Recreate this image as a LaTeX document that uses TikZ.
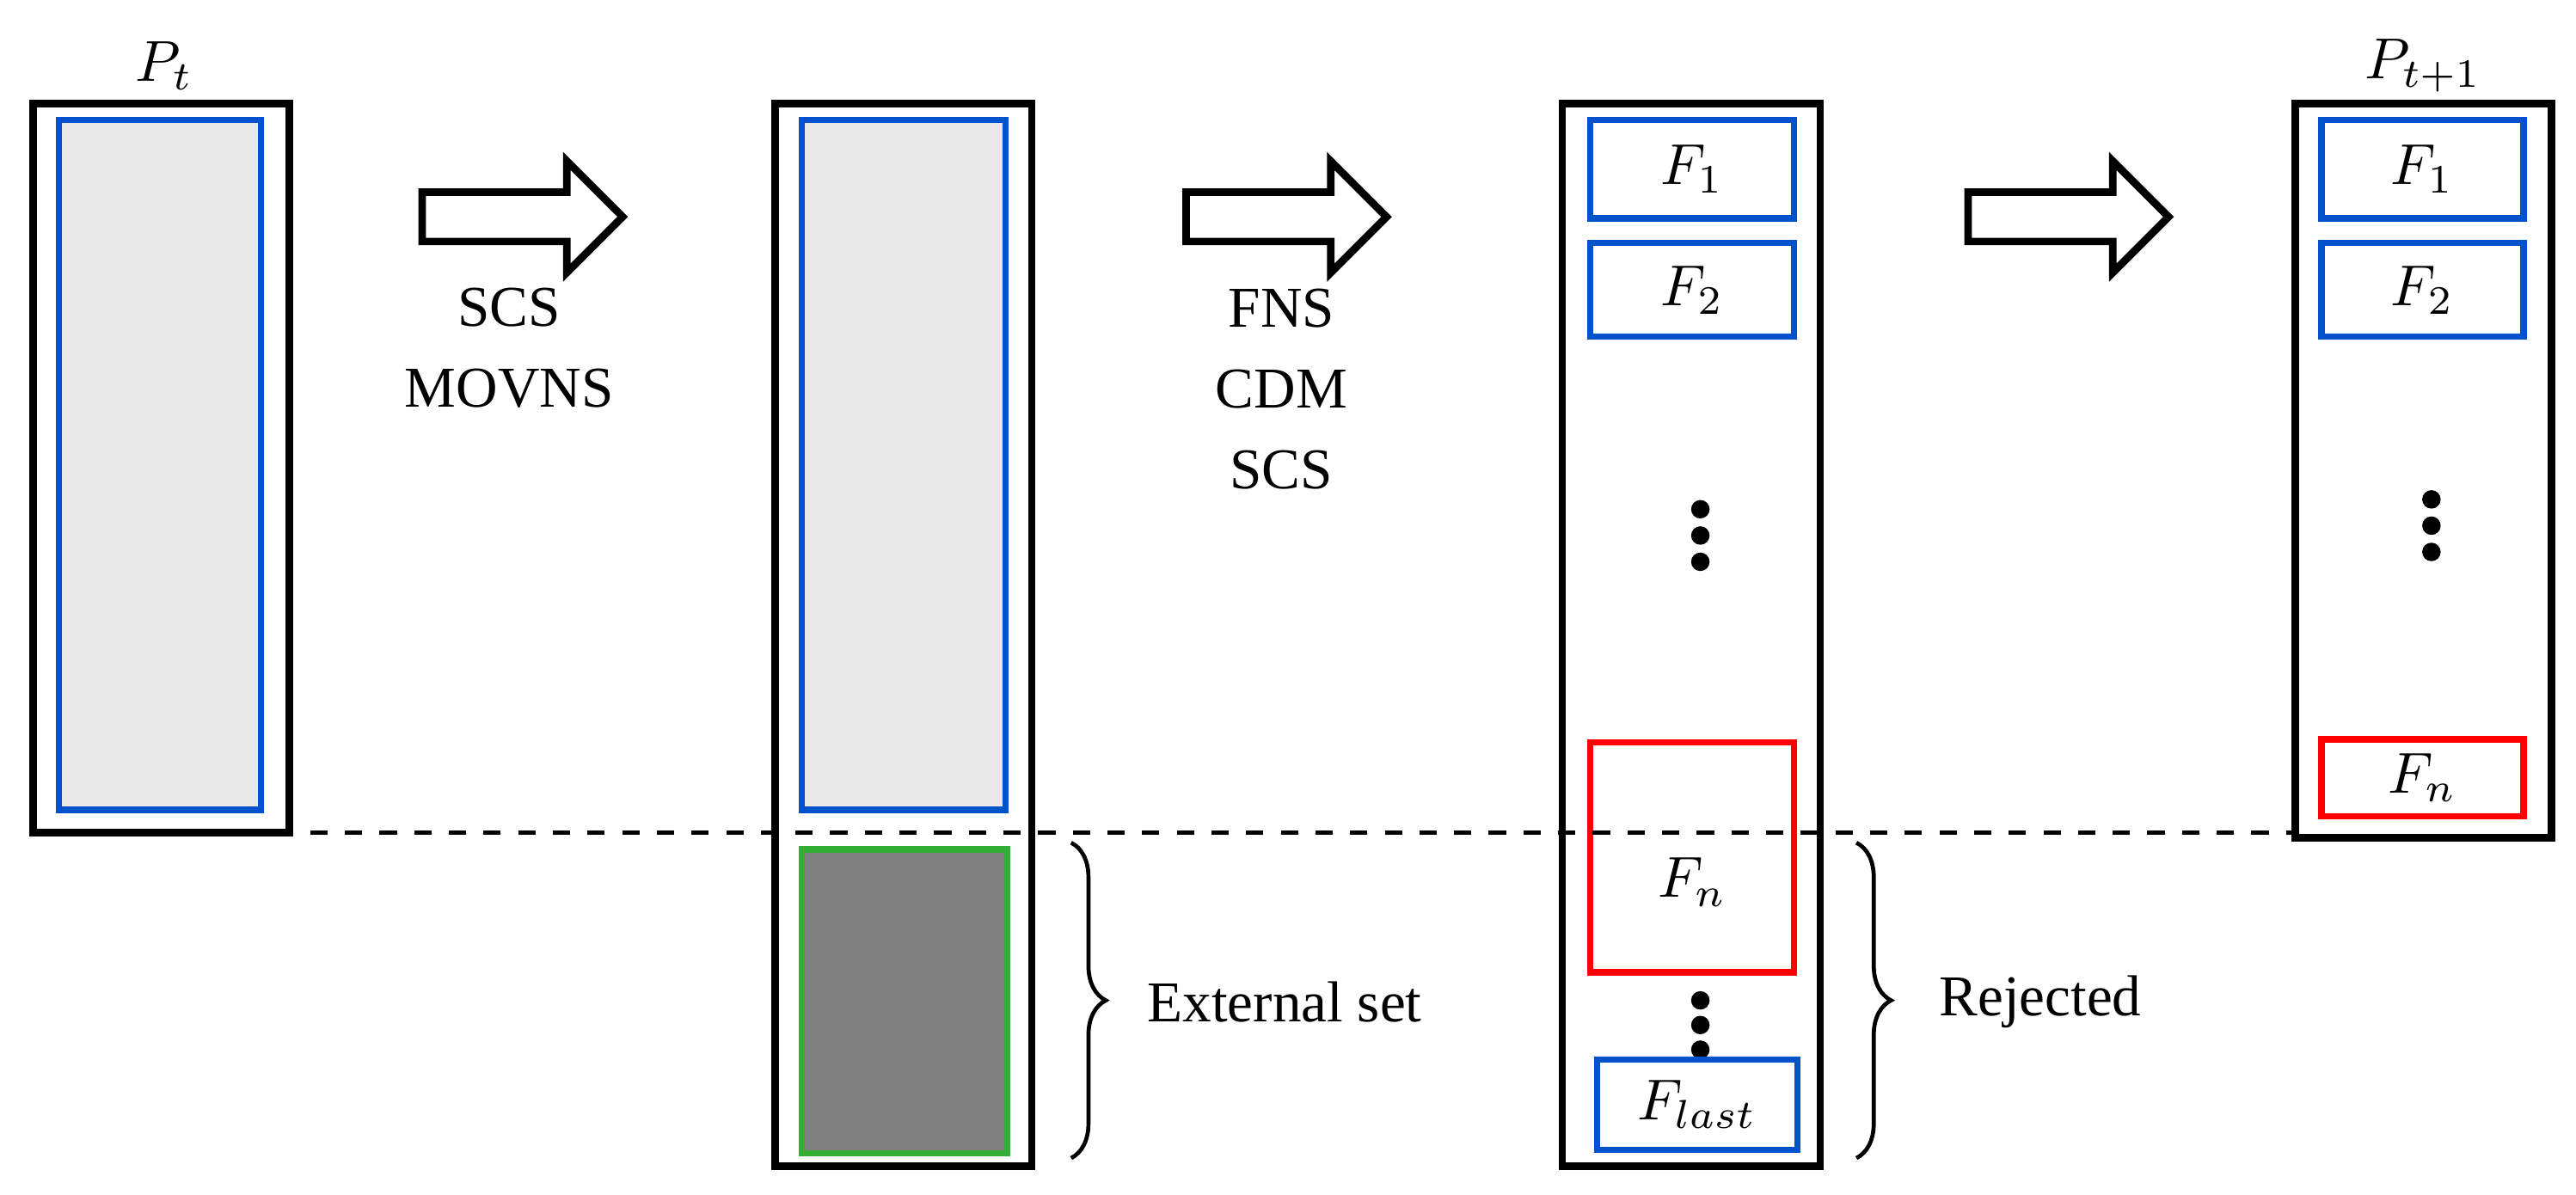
\documentclass[tikz,border=0pt]{standalone}
\usepackage{fontspec}
\setmainfont{Liberation Serif}
\usetikzlibrary{decorations.pathreplacing}
\begin{document}
\begin{tikzpicture}[x=0.01cm,y=-0.01cm,
 outer/.style={draw=black,line width=1.3pt},
 blue box/.style={draw=blue!60!cyan!80!black,line width=1.1pt},
 red box/.style={draw=red,line width=1.1pt},
 lbl/.style={font=\fontsize{10}{12}\selectfont},
 dot/.style={circle,fill=black,inner sep=0,minimum size=3.2pt},
 bigarrow/.style={draw=black,line width=1.3pt,fill=white},
 br/.style={decorate,decoration={brace,amplitude=6pt},line width=0.7pt}]
\useasboundingbox (0,0) rectangle (1568,727);
% column 1
\draw[outer] (20,63) rectangle (176,507);
\draw[blue box,fill=gray!18] (36,73) rectangle (159,493);
\node[lbl] (pt) at (100,40) {$P_t$};
% arrows
\foreach \x in {257,722,1198}{
 \draw[bigarrow] (\x,117) -- (\x+88,117) -- (\x+88,98) -- (\x+122,132) -- (\x+88,166) -- (\x+88,147) -- (\x,147) -- cycle;
}
\node[lbl,align=center] (t1) at (310,212) {SCS\\[2pt]MOVNS};
\node[lbl,align=center] (t2) at (780,237) {FNS\\[2pt]CDM\\[2pt]SCS};
% column 2
\draw[outer] (472,63) rectangle (628,710);
\draw[blue box,fill=gray!18] (488,73) rectangle (612,493);
\draw[draw=green!60!black!80,line width=1.1pt,fill=gray] (488,517) rectangle (613,702);
\coordinate (b1s) at (652,513); \coordinate (b1e) at (652,705);
\draw[br] (b1s) -- (b1e);
\node[lbl,anchor=west] (ext) at (686,610) {External set};
% column 3
\draw[outer] (951,63) rectangle (1108,710);
\draw[blue box] (968,73) rectangle (1092,133) node[midway,lbl] (f1) {$F_1$};
\draw[blue box] (968,148) rectangle (1092,205) node[midway,lbl] (f2) {$F_2$};
\foreach \y in {310,326,342} \node[dot] at (1035,\y) {};
\draw[red box] (968,452) rectangle (1092,592);
\node[lbl] (fn) at (1030,537) {$F_n$};
\foreach \y in {609,624,639} \node[dot] at (1035,\y) {};
\draw[blue box] (972,645) rectangle (1094,700) node[midway,lbl] (fl) {$F_{last}$};
\coordinate (b2s) at (1130,513); \coordinate (b2e) at (1130,705);
\draw[br] (b2s) -- (b2e);
\node[lbl,anchor=west] (rej) at (1168,610) {Rejected};
% column 4
\draw[outer] (1397,63) rectangle (1553,510);
\draw[blue box] (1413,73) rectangle (1536,133) node[midway,lbl] (g1) {$F_1$};
\draw[blue box] (1413,148) rectangle (1536,205) node[midway,lbl] (g2) {$F_2$};
\foreach \y in {304,320,336} \node[dot] at (1480,\y) {};
\draw[red box] (1413,450) rectangle (1536,497) node[midway,lbl] (gn) {$F_n$};
\node[lbl] (pt1) at (1475,40) {$P_{t+1}$};
% dashed line
\coordinate (l1) at (20,507); \coordinate (l2) at (1397,507);
\draw[dashed,line width=0.7pt] (l1) -- (l2);
\end{tikzpicture}
\end{document}
